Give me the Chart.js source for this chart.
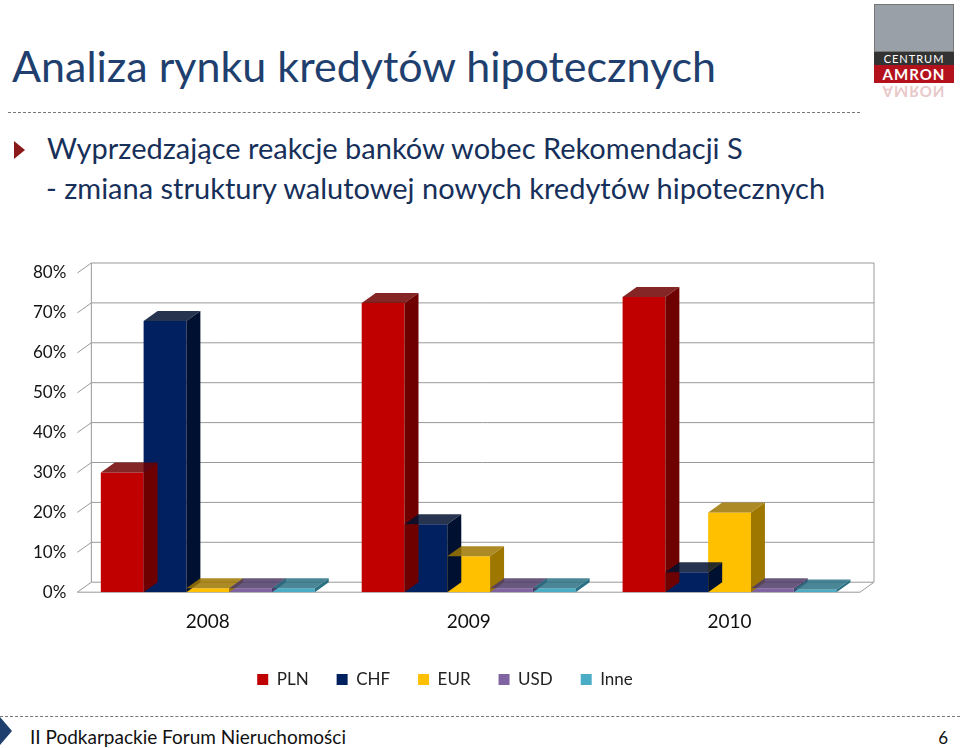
<!DOCTYPE html>
<html>
<head>
<meta charset="utf-8">
<script src="https://cdn.jsdelivr.net/npm/chart.js@4"></script>
<style>
  body { margin: 0; width: 960px; height: 748px; background: #fff; font-family: Lato, sans-serif; overflow: hidden; position: relative; }
  #tytul { position: absolute; left: 12px; top: 40px; font-size: 43px; color: #1F3F6E; }
  #kreska { position: absolute; left: 8px; right: 100px; top: 112px; border-top: 1.5px dashed #777; }
  #punkt { position: absolute; left: 14px; top: 128px; font-size: 29px; color: #17305A; line-height: 40px; }
  #punkt .tri { display: inline-block; width: 0; height: 0; border-left: 11px solid #8B1A1A; border-top: 9px solid transparent; border-bottom: 9px solid transparent; margin-right: 22px; }
  #punkt .d { padding-left: 32px; }
  #logo { position: absolute; left: 874px; top: 4px; width: 80px; height: 100px; }
  #logo .kw { height: 46px; background: #9aa0a8; border: 1px solid #777; }
  #logo .c { background: #333; color: #fff; font-size: 11px; text-align: center; letter-spacing: 1px; }
  #logo .a { background: #b3121d; color: #fff; font-size: 15px; font-weight: bold; text-align: center; letter-spacing: 1px; }
  #logo .odb { color: #e8c8c8; font-size: 15px; font-weight: bold; text-align: center; transform: scaleY(-1); letter-spacing: 1px; }
  #wykres { position: absolute; left: 0; top: 233px; width: 900px; height: 475px; }
  #stopka { position: absolute; left: 0; right: 0; top: 716px; border-top: 1.5px dashed #777; }
  #stopka .l { position: absolute; left: 30px; top: 8px; font-size: 19px; color: #111; }
  #stopka .r { position: absolute; right: 12px; top: 10px; font-size: 17px; color: #111; }
  #stopka .tri { position: absolute; left: 0; top: 0; width: 0; height: 0; border-left: 12px solid #1F3F6E; border-top: 14px solid transparent; border-bottom: 14px solid transparent; }
</style>
</head>
<body>
<div id="tytul">Analiza rynku kredytów hipotecznych</div>
<div id="kreska"></div>
<div id="punkt"><span class="tri"></span>Wyprzedzające reakcje banków wobec Rekomendacji S<br><span class="d">- zmiana struktury walutowej nowych kredytów hipotecznych</span></div>
<div id="logo">
  <div class="kw"></div>
  <div class="c">CENTRUM</div>
  <div class="a">AMRON</div>
  <div class="odb">AMRON</div>
</div>
<div id="wykres"><canvas id="c" width="900" height="475"></canvas></div>
<div id="stopka"><span class="tri"></span><span class="l">II Podkarpackie Forum Nieruchomości</span><span class="r">6</span></div>
<script>
const lata = ['2008', '2009', '2010'];
const waluty = ['PLN', 'CHF', 'EUR', 'USD', 'Inne'];
const pln = [30, 72.5, 74];
const chf = [68, 17, 5];
const eur = [1, 9, 20];
const usd = [1, 1, 1];
const inne = [1, 1, 0.7];
const kolory = ['#C00000', '#002060', '#FFC000', '#8064A2', '#4BACC6'];
const ciemne = ['#6E0000', '#001030', '#9E7700', '#4E3B66', '#2B7184'];
const osY = [0, 10, 20, 30, 40, 50, 60, 70, 80];

const DX = 14, DY = -10;

// 3D: sciana tylna z liniami siatki i boki slupkow
const trojwymiar = {
  id: 'trojwymiar',
  beforeDatasetsDraw (chart) {
    const ctx = chart.ctx, a = chart.chartArea, y = chart.scales.y;
    ctx.save();
    ctx.strokeStyle = '#999';
    ctx.lineWidth = 1;
    osY.forEach(v => {
      const py = y.getPixelForValue(v);
      ctx.beginPath();
      ctx.moveTo(a.left, py);
      ctx.lineTo(a.left + DX, py + DY);
      ctx.lineTo(a.right + DX, py + DY);
      ctx.stroke();
    });
    ctx.beginPath();
    ctx.moveTo(a.left + DX, y.getPixelForValue(80) + DY);
    ctx.lineTo(a.left + DX, y.getPixelForValue(0) + DY);
    ctx.moveTo(a.right + DX, y.getPixelForValue(80) + DY);
    ctx.lineTo(a.right + DX, y.getPixelForValue(0) + DY);
    ctx.lineTo(a.right, y.getPixelForValue(0));
    ctx.lineTo(a.left, y.getPixelForValue(0));
    ctx.stroke();
    ctx.restore();
  },
  afterDatasetsDraw (chart) {
    const ctx = chart.ctx;
    ctx.save();
    chart.data.datasets.forEach((ds, i) => {
      chart.getDatasetMeta(i).data.forEach(bar => {
        const l = bar.x - bar.width / 2, r = bar.x + bar.width / 2, t = bar.y, b = bar.base;
        ctx.fillStyle = ciemne[i];
        ctx.beginPath();
        ctx.moveTo(r, t); ctx.lineTo(r + DX, t + DY); ctx.lineTo(r + DX, b + DY); ctx.lineTo(r, b);
        ctx.closePath(); ctx.fill();
        ctx.globalAlpha = 0.85;
        ctx.beginPath();
        ctx.moveTo(l, t); ctx.lineTo(l + DX, t + DY); ctx.lineTo(r + DX, t + DY); ctx.lineTo(r, t);
        ctx.closePath(); ctx.fill();
        ctx.globalAlpha = 1;
      });
    });
    ctx.restore();
  }
};

const serie = [pln, chf, eur, usd, inne];
new Chart(document.getElementById('c'), {
  type: 'bar',
  data: {
    labels: lata,
    datasets: waluty.map((w, i) => ({
      label: w, data: serie[i], backgroundColor: kolory[i],
      categoryPercentage: 0.82, barPercentage: 1
    }))
  },
  options: {
    responsive: false, animation: false,
    layout: { padding: { top: 40, right: 40, bottom: 10, left: 30 } },
    plugins: {
      legend: {
        position: 'bottom',
        labels: { boxWidth: 11, boxHeight: 11, padding: 28, color: '#222', font: { family: 'Lato', size: 17 } }
      },
      tooltip: { enabled: false }
    },
    scales: {
      x: { grid: { display: false }, border: { display: false },
           ticks: { color: '#111', font: { family: 'Lato', size: 19 }, padding: 10 } },
      y: { min: 0, max: 80, grid: { display: false }, border: { display: false },
           ticks: { stepSize: 10, color: '#111', font: { family: 'Lato', size: 17 }, callback: v => v + '%' } }
    }
  },
  plugins: [trojwymiar]
});
</script>
</body>
</html>
